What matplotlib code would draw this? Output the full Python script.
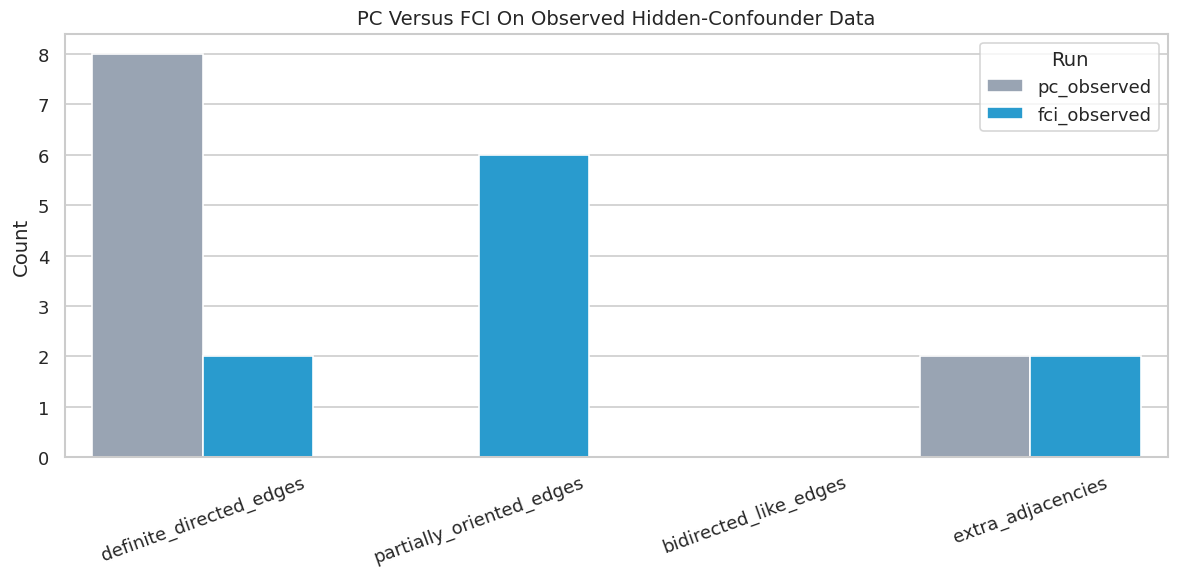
import matplotlib
matplotlib.use("Agg")
import matplotlib.pyplot as plt
import seaborn as sns
import pandas as pd

metrics = ["definite_directed_edges", "partially_oriented_edges",
           "bidirected_like_edges", "extra_adjacencies"]
runs = ["pc_observed", "fci_observed"]
pc_counts = [8, 0, 0, 2]
fci_counts = [2, 6, 0, 2]

rows = []
for m, pc, fci in zip(metrics, pc_counts, fci_counts):
    rows.append({"metric": m, "run": "pc_observed", "count": pc})
    rows.append({"metric": m, "run": "fci_observed", "count": fci})
df = pd.DataFrame(rows)

sns.set_theme(style="whitegrid")
fig, ax = plt.subplots(figsize=(10, 4.915), dpi=118)
sns.barplot(data=df, x="metric", y="count", hue="run", hue_order=runs,
            palette={"pc_observed": "#94a3b8", "fci_observed": "#0ea5e9"}, ax=ax)
ax.set_title("PC Versus FCI On Observed Hidden-Confounder Data")
ax.set_xlabel("")
ax.set_ylabel("Count")
ax.legend(title="Run", loc="upper right")
plt.setp(ax.get_xticklabels(), rotation=20)
fig.subplots_adjust(left=0.055, right=0.990, top=0.940, bottom=0.210)
fig.savefig("out.png")
